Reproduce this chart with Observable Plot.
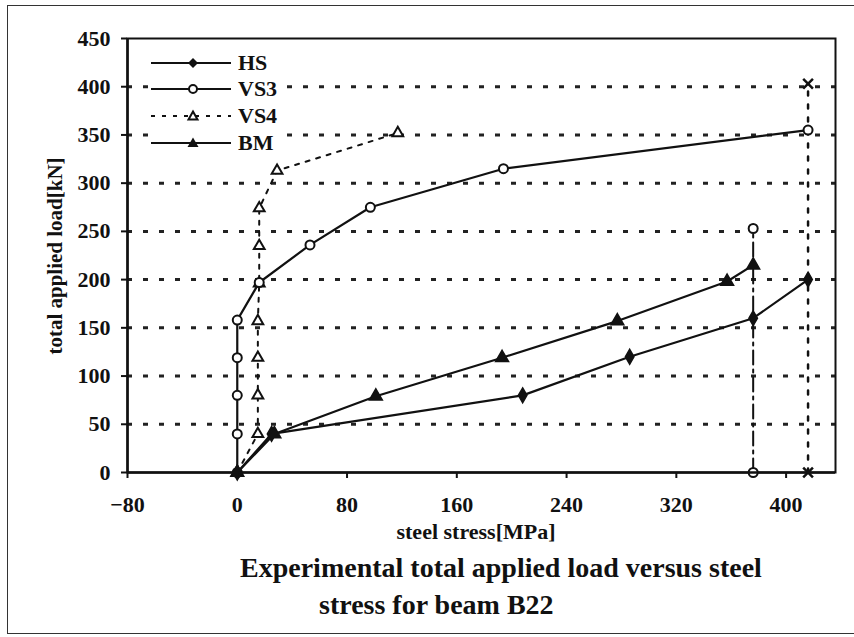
<!DOCTYPE html>
<html>
<head>
<meta charset="utf-8">
<script src="https://cdn.jsdelivr.net/npm/d3@7"></script>
<script src="https://cdn.jsdelivr.net/npm/@observablehq/plot@0.6"></script>
<style>
  html, body { margin: 0; padding: 0; background: #fff; }
  #wrap { position: relative; width: 854px; height: 637px; overflow: hidden; font-family: "Liberation Serif", "Times New Roman", serif; font-weight: bold; color: #111; }
  #wrap svg.plot { position: absolute; left: 0; top: 0; }
  #wrap svg text { font-size: 22px !important; font-weight: bold; font-family: "Liberation Serif", "Times New Roman", serif; }
  .abs { position: absolute; white-space: nowrap; line-height: 1; }
  #border { position: absolute; left: 7px; top: 5px; width: 860px; height: 629px; border: 1.5px solid #333; box-sizing: border-box; }
  #legend { position: absolute; left: 149px; top: 50px; width: 136px; height: 106px; background: #fff; }
  .lrow { position: absolute; left: 0; height: 24px; display: flex; align-items: center; }
  .lrow span { font-size: 22px; margin-left: 5px; }
</style>
</head>
<body>
<div id="wrap">
  <div id="border"></div>
</div>
<script>
// ---- data ----
const hsX  = [0, 25, 208, 286, 376, 416];
const hsY  = [0, 40, 80, 120, 160, 200];
const vs3X = [0, 0, 0, 0, 0, 16, 53, 97, 194, 416];
const vs3Y = [0, 40, 80, 119, 158, 197, 236, 275, 315, 355];
const vs4X = [0, 15, 15, 15, 15, 16, 16, 16, 29, 117];
const vs4Y = [0, 40, 80, 119, 157, 196, 235, 274, 313, 352];
const bmX  = [0, 27, 101, 193, 277, 357, 376];
const bmY  = [0, 40, 79, 119, 157, 198, 215];
// vertical reference lines (limits)
const limVS3X = [376, 376];
const limVS3Y = [0, 253];
const limXX   = [416, 416];
const limXY   = [0, 403];
const xTicks = [-80, 0, 80, 160, 240, 320, 400];
const yTicks = [0, 50, 100, 150, 200, 250, 300, 350, 400, 450];
const gridY  = [50, 100, 150, 200, 250, 300, 350, 400];
const seriesNames = ["HS", "VS3", "VS4", "BM"];
const xLabel = "steel stress[MPa]";
const yLabel = "total applied load[kN]";
const titleLines = ["Experimental total applied load versus steel", "stress for beam B22"];

const zip = (xs, ys) => xs.map((x, i) => ({x, y: ys[i]}));
const hs = zip(hsX, hsY), vs3 = zip(vs3X, vs3Y), vs4 = zip(vs4X, vs4Y), bm = zip(bmX, bmY);
const limA = zip(limVS3X, limVS3Y), limB = zip(limXX, limXY);

const ink = "#111";
const plot = Plot.plot({
  width: 854, height: 637,
  marginTop: 38, marginLeft: 127, marginRight: 19, marginBottom: 165,
  style: {fontFamily: "'Liberation Serif', 'Times New Roman', serif", fontWeight: "bold", fontSize: "22px", color: ink, background: "transparent"},
  x: {domain: [-80, 436]},
  y: {domain: [0, 450]},
  marks: [
    Plot.ruleY(gridY, {stroke: "#222", strokeWidth: 3, strokeDasharray: "5,11"}),
    Plot.frame({stroke: ink, strokeWidth: 2}),
    // limit lines
    Plot.line(limA, {x: "x", y: "y", stroke: ink, strokeWidth: 2, strokeDasharray: "14,5,3,5"}),
    Plot.dot(limA, {x: "x", y: "y", symbol: "circle", r: 4.5, stroke: ink, strokeWidth: 2, fill: "white"}),
    Plot.line(limB, {x: "x", y: "y", stroke: ink, strokeWidth: 2.5, strokeDasharray: "4,9"}),
    Plot.dot(limB, {x: "x", y: "y", symbol: "times", r: 4.5, stroke: ink, strokeWidth: 2.5}),
    // series
    Plot.line(vs4, {x: "x", y: "y", stroke: ink, strokeWidth: 2, strokeDasharray: "4,7"}),
    Plot.dot(vs4, {x: "x", y: "y", symbol: "triangle", r: 4, stroke: ink, strokeWidth: 2, fill: "white"}),
    Plot.line(vs3, {x: "x", y: "y", stroke: ink, strokeWidth: 2.2}),
    Plot.dot(vs3, {x: "x", y: "y", symbol: "circle", r: 4.5, stroke: ink, strokeWidth: 2, fill: "white"}),
    Plot.line(hs, {x: "x", y: "y", stroke: ink, strokeWidth: 2.2}),
    Plot.dot(hs, {x: "x", y: "y", symbol: "diamond", r: 4.5, fill: ink, stroke: ink}),
    Plot.line(bm, {x: "x", y: "y", stroke: ink, strokeWidth: 2.2}),
    Plot.dot(bm, {x: "x", y: "y", symbol: "triangle", r: 4.8, fill: ink, stroke: ink}),
    // axes
    Plot.ruleX([-80], {stroke: ink, strokeWidth: 2.5}),
    Plot.ruleY([0], {stroke: ink, strokeWidth: 2.5}),
    Plot.axisX({ticks: xTicks, tickSize: 6, tickPadding: 18, label: null, fontSize: 22, fontWeight: "bold", strokeWidth: 2}),
    Plot.axisY({ticks: yTicks, tickSize: 6, tickPadding: 11, label: null, fontSize: 22, fontWeight: "bold", strokeWidth: 2})
  ]
});
const wrap = document.getElementById("wrap");
wrap.appendChild(plot);

function addText(txt, css) {
  const d = document.createElement("div");
  d.className = "abs";
  d.textContent = txt;
  Object.assign(d.style, css);
  wrap.appendChild(d);
  return d;
}
addText(xLabel, {left: "476px", top: "532px", fontSize: "22px", transform: "translate(-50%,-50%)"});
addText(yLabel, {left: "55px", top: "256px", fontSize: "21px", transform: "translate(-50%,-50%) rotate(-90deg)"});
addText(titleLines[0], {left: "240px", top: "568px", fontSize: "28px", transform: "translateY(-50%)"});
addText(titleLines[1], {left: "319px", top: "605px", fontSize: "28px", transform: "translateY(-50%)"});

// legend
const legend = document.createElement("div");
legend.id = "legend";
wrap.appendChild(legend);
const ns = "http://www.w3.org/2000/svg";
function markerSvg(kind) {
  let line = `<line x1="2" y1="12" x2="82" y2="12" stroke="${ink}" stroke-width="2.2" ${kind === "VS4" ? 'stroke-dasharray="4,7"' : ""}/>`;
  let m = "";
  if (kind === "HS") m = `<path d="M44,7 L49,12 L44,17 L39,12 Z" fill="${ink}"/>`;
  if (kind === "VS3") m = `<circle cx="44" cy="12" r="4" fill="white" stroke="${ink}" stroke-width="2"/>`;
  if (kind === "VS4") m = `<path d="M44,7.5 L48.5,15.5 L39.5,15.5 Z" fill="white" stroke="${ink}" stroke-width="2"/>`;
  if (kind === "BM") m = `<path d="M44,6.5 L49.5,16 L38.5,16 Z" fill="${ink}"/>`;
  return `<svg width="84" height="24" xmlns="${ns}">${line}${m}</svg>`;
}
const rowTops = [1, 27, 54, 81];
seriesNames.forEach((name, i) => {
  const r = document.createElement("div");
  r.className = "lrow";
  r.style.top = rowTops[i] + "px";
  r.innerHTML = markerSvg(name) + `<span>${name}</span>`;
  legend.appendChild(r);
});
</script>
</body>
</html>
